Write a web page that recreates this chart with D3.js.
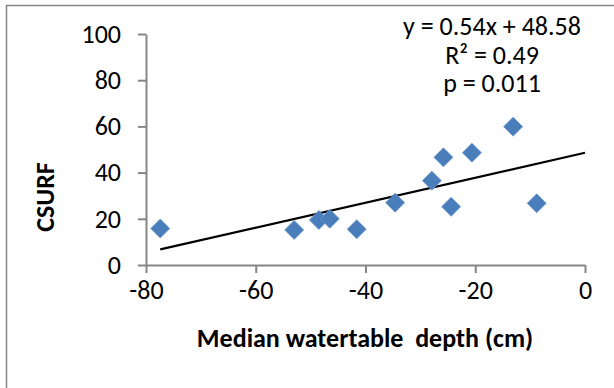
<!DOCTYPE html>
<html lang="en">
<head>
<meta charset="UTF-8">
<title>CSURF vs median watertable depth</title>
<script src="https://d3js.org/d3.v7.min.js"></script>
<style>
  body { margin: 0; background: #fff; }
  svg text { font-family: Carlito, Calibri, Lato, sans-serif; fill: #000; }
</style>
</head>
<body>
<div id="container"></div>
<script>
    // Données
    const depth = [-77.4, -53.0, -48.5, -46.5, -41.6, -34.6, -27.9, -25.8, -24.4, -20.6, -13.1, -8.8];
    const csurf = [15.8, 15.2, 19.5, 20.0, 15.5, 27.0, 36.5, 46.6, 25.2, 48.6, 59.9, 26.7];
    const xTicks = [-80, -60, -40, -20, 0];
    const yTicks = [0, 20, 40, 60, 80, 100];
    const slope = 0.54, intercept = 48.58;
    const trendRange = [-77.4, 0];
    const statLines = ["y = 0.54x + 48.58", "R² = 0.49", "p = 0.011"];

    const W = 614, H = 388;
    const plotLeft = 146, plotRight = 585, plotTop = 34, plotBottom = 265;
    const axisColor = "#868686";

    const svg = d3.select("#container").append("svg")
        .attr("width", W).attr("height", H);

    // Cadre extérieur
    svg.append("rect")
       .attr("x", 6.5).attr("y", 5.5)
       .attr("width", W + 20).attr("height", H + 20)
       .attr("fill", "none")
       .attr("stroke", axisColor)
       .attr("stroke-width", 1.5);

    const x = d3.scaleLinear().domain([-80, 0]).range([plotLeft, plotRight]);
    const y = d3.scaleLinear().domain([0, 100]).range([plotBottom, plotTop]);

    // Axe X (tiret simple comme dans Excel)
    svg.append("g")
       .attr("transform", `translate(0,${plotBottom})`)
       .call(d3.axisBottom(x).tickValues(xTicks).tickFormat(d => String(d))
               .tickSize(8).tickSizeOuter(0).tickPadding(8))
       .call(g => g.selectAll("line, path").attr("stroke", axisColor).attr("stroke-width", 2))
       .call(g => g.selectAll("text").attr("font-size", 26).attr("fill", "#000"));

    // Axe Y
    svg.append("g")
       .attr("transform", `translate(${plotLeft},0)`)
       .call(d3.axisLeft(y).tickValues(yTicks).tickSize(8).tickSizeOuter(0).tickPadding(17))
       .call(g => g.selectAll("line, path").attr("stroke", axisColor).attr("stroke-width", 2))
       .call(g => g.selectAll("text").attr("font-size", 26).attr("fill", "#000"));

    // Droite de tendance
    svg.append("line")
       .attr("x1", x(trendRange[0])).attr("y1", y(slope * trendRange[0] + intercept))
       .attr("x2", x(trendRange[1])).attr("y2", y(slope * trendRange[1] + intercept))
       .attr("stroke", "#000")
       .attr("stroke-width", 2.2);

    // Points (losanges)
    const pts = depth.map((d, i) => ({ x: d, y: csurf[i] }));
    svg.append("g")
       .selectAll("path")
       .data(pts)
       .join("path")
       .attr("transform", d => `translate(${x(d.x)},${y(d.y)})`)
       .attr("d", "M0,-9.5L9.5,0L0,9.5L-9.5,0Z")
       .attr("fill", "#4a7ebb")
       .attr("stroke", "#6a96cc")
       .attr("stroke-width", 0.8);

    // Équation, R² et p
    svg.append("g")
       .selectAll("text")
       .data(statLines)
       .join("text")
       .attr("x", 492)
       .attr("y", (d, i) => 35 + i * 28.5)
       .attr("text-anchor", "middle")
       .attr("font-size", 26)
       .text(d => d);

    // Titres des axes
    svg.append("text")
       .attr("x", 365).attr("y", 347)
       .attr("text-anchor", "middle")
       .attr("font-size", 26)
       .attr("font-weight", "bold")
       .style("white-space", "pre")
       .text("Median watertable  depth (cm)");

    svg.append("text")
       .attr("transform", "translate(54,197) rotate(-90)")
       .attr("text-anchor", "middle")
       .attr("font-size", 26)
       .attr("font-weight", "bold")
       .text("CSURF");
</script>
</body>
</html>
